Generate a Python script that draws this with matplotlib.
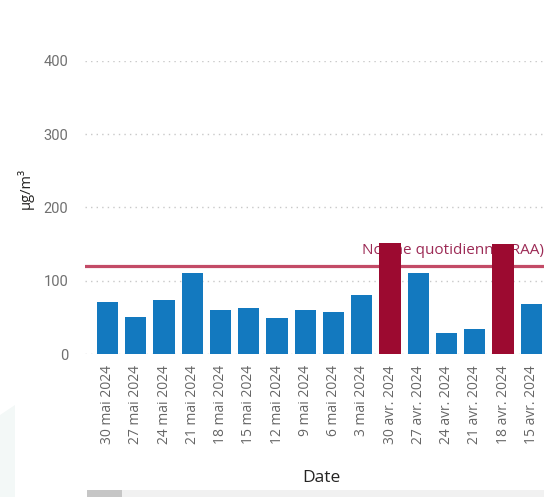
import matplotlib
matplotlib.use("Agg")
import matplotlib.pyplot as plt
from matplotlib.patches import Rectangle, Polygon

dates = ["30 mai 2024", "27 mai 2024", "24 mai 2024", "21 mai 2024", "18 mai 2024",
         "15 mai 2024", "12 mai 2024", "9 mai 2024", "6 mai 2024", "3 mai 2024",
         "30 avr. 2024", "27 avr. 2024", "24 avr. 2024", "21 avr. 2024",
         "18 avr. 2024", "15 avr. 2024"]
values = [71, 51, 73, 110, 60, 63, 49, 60, 57, 81, 152, 110, 29, 34, 150, 68]
norm_value = 120
norm_label = "Norme quotidienne (RAA)"
y_ticks = [0, 100, 200, 300, 400]

BLUE = "#1379bf"
RED = "#9c0a30"

W, H = 544, 497
fig = plt.figure(figsize=(W / 100, H / 100), dpi=100)

ax_left, ax_bottom_px, ax_top_px = 85, 354, 60.7
ax = fig.add_axes([ax_left / W, (H - ax_bottom_px) / H, (W - ax_left) / W,
                   (ax_bottom_px - ax_top_px) / H])

x = list(range(len(values)))
colors = [RED if v > norm_value else BLUE for v in values]
ax.bar(x, values, width=0.75, color=colors, zorder=3)

ax.axhline(norm_value, color="#c0415f", lw=2.3, zorder=2, alpha=0.95)
ax.text(9.0, norm_value + 16, norm_label, color="#9c2a55", fontsize=11,
        family="Open Sans", va="baseline", ha="left", zorder=2.5, clip_on=True)

ax.set_xlim(-0.8, 15.45)
ax.set_ylim(0, 400)
ax.set_yticks(y_ticks)
ax.set_yticklabels([str(t) for t in y_ticks], family="Roboto", fontsize=10.5,
                   color="#707070")
ax.set_xticks(x)
ax.set_xticklabels(dates, rotation=90, family="Open Sans", fontsize=10,
                   color="#666666", va="top", ha="center")
ax.tick_params(axis="both", length=0)
ax.tick_params(axis="y", pad=12)
ax.tick_params(axis="x", pad=8)
ax.grid(axis="y", color="#c8c8c8", linestyle=(0, (1, 3)), lw=1, zorder=0)
for s in ax.spines.values():
    s.set_visible(False)

fig.text(321 / W, 1 - 478 / H, "Date", ha="center", va="center",
         family="Open Sans", fontsize=12.5, color="#252423")
fig.text(25 / W, 1 - 189 / H, "µg/m³", ha="center", va="center", rotation=90,
         family="Open Sans", fontsize=10.5, color="#252423")

# scrollbar
fig.patches.append(Rectangle((87 / W, 0), 1 - 87 / W, 7 / H, transform=fig.transFigure,
                             facecolor="#f1f1f1", edgecolor="none"))
fig.patches.append(Rectangle((87 / W, 0), 35 / W, 7 / H, transform=fig.transFigure,
                             facecolor="#c6c6c6", edgecolor="none"))
# faint background shape bottom-left
fig.patches.append(Polygon([(0, 0), (15 / W, 0), (15 / W, 1 - 405 / H), (0, 1 - 415 / H)],
                           closed=True, transform=fig.transFigure,
                           facecolor="#f3f8f7", edgecolor="none"))

fig.savefig("out.png", dpi=100)
